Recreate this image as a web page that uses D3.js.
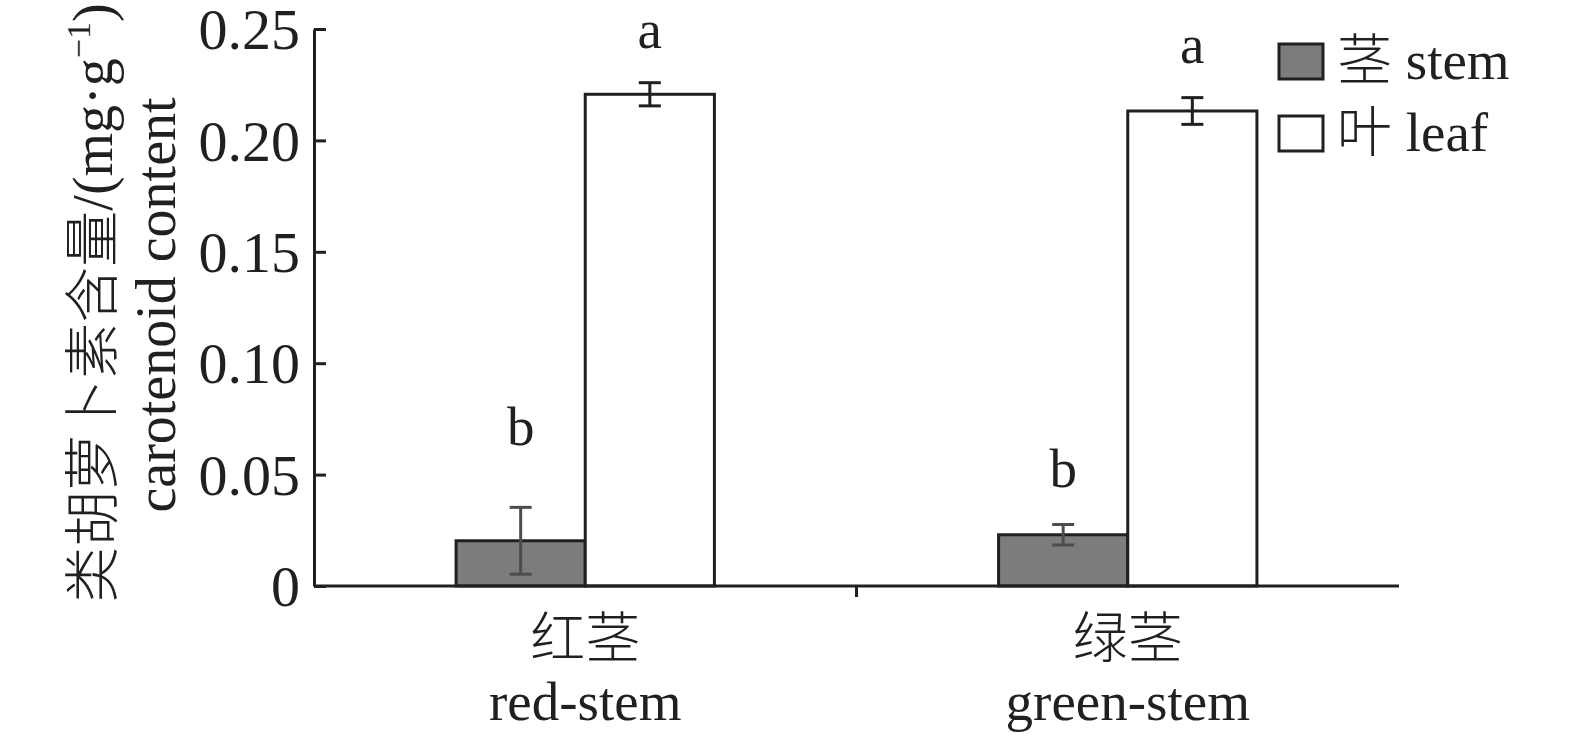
<!DOCTYPE html>
<html><head><meta charset="utf-8">
<script src="https://cdn.jsdelivr.net/npm/d3@7"></script>
<style>
html,body{margin:0;padding:0;background:#fff;}
text{font-family:"Liberation Serif","Times New Roman","Noto Sans CJK SC",serif;fill:#231f20;}
</style></head>
<body><svg id="c" width="1575" height="740"></svg>
<script>
const categories = ["红茎", "绿茎"];
const categoriesEn = ["red-stem", "green-stem"];
const series = ["茎 stem", "叶 leaf"];
const stemValues = [0.0203, 0.0230];
const leafValues = [0.2207, 0.2132];
const stemErr = [0.0150, 0.0046];
const leafErr = [0.0052, 0.0060];
const stemLetters = ["b", "b"];
const leafLetters = ["a", "a"];
const stemLetterAt = [0.0635, 0.0443];
const leafLetterAt = [0.2414, 0.2348];
const yTicks = [0, 0.05, 0.10, 0.15, 0.20, 0.25];
const yTickLabels = ["0", "0.05", "0.10", "0.15", "0.20", "0.25"];

const fills = ["#7d7c7d", "#ffffff"];
const errColors = ["#4d4d4f", "#231f20"];
const ink = "#231f20";

const svg = d3.select("#c");
const y = d3.scaleLinear().domain([0, 0.25]).range([586, 29]);
const x0 = d3.scaleBand().domain(categories).range([314, 1399]).paddingInner(0).paddingOuter(0);
const x1 = d3.scaleBand().domain(series).range([0, x0.bandwidth()]).paddingInner(0).paddingOuter(1.1);

const rows = [];
categories.forEach((c, i) => {
  rows.push({c, s: series[0], v: stemValues[i], e: stemErr[i], l: stemLetters[i], la: stemLetterAt[i], k: 0});
  rows.push({c, s: series[1], v: leafValues[i], e: leafErr[i], l: leafLetters[i], la: leafLetterAt[i], k: 1});
});

// bars
svg.append("g").selectAll("rect").data(rows).join("rect")
  .attr("x", d => x0(d.c) + x1(d.s))
  .attr("y", d => y(d.v))
  .attr("width", x1.bandwidth())
  .attr("height", d => y(0) - y(d.v))
  .attr("fill", d => fills[d.k])
  .attr("stroke", ink).attr("stroke-width", 3);

// error bars
const eg = svg.append("g").selectAll("g").data(rows).join("g")
  .attr("transform", d => `translate(${x0(d.c) + x1(d.s) + x1.bandwidth() / 2},0)`)
  .attr("stroke", d => errColors[d.k]).attr("stroke-width", 3);
eg.append("line").attr("y1", d => y(d.v + d.e)).attr("y2", d => y(d.v - d.e));
eg.append("line").attr("x1", -11).attr("x2", 11).attr("y1", d => y(d.v + d.e)).attr("y2", d => y(d.v + d.e));
eg.append("line").attr("x1", -11).attr("x2", 11).attr("y1", d => y(d.v - d.e)).attr("y2", d => y(d.v - d.e));

// letters
svg.append("g").selectAll("text").data(rows).join("text")
  .attr("x", d => x0(d.c) + x1(d.s) + x1.bandwidth() / 2)
  .attr("y", d => y(d.la))
  .attr("text-anchor", "middle")
  .attr("font-size", 55)
  .text(d => d.l);

// y axis
const yAxis = d3.axisLeft(y).tickValues(yTicks)
  .tickFormat((d, i) => yTickLabels[i]).tickSizeInner(-12).tickSizeOuter(0).tickPadding(14);
const ga = svg.append("g").attr("transform", "translate(314,0)").call(yAxis);
ga.select(".domain").attr("stroke", ink).attr("stroke-width", 3);
ga.selectAll(".tick line").attr("stroke", ink).attr("stroke-width", 3);
ga.selectAll(".tick text").attr("font-size", 58).attr("fill", ink)
  .attr("font-family", "'Liberation Serif', serif").attr("dy", "0.34em");

// x axis
svg.append("line").attr("x1", 314).attr("x2", 1399).attr("y1", y(0)).attr("y2", y(0))
  .attr("stroke", ink).attr("stroke-width", 3);
svg.append("g").selectAll("line").data(categories.slice(1)).join("line")
  .attr("x1", d => x0(d)).attr("x2", d => x0(d))
  .attr("y1", y(0)).attr("y2", y(0) + 11)
  .attr("stroke", ink).attr("stroke-width", 3);

// category labels
const cg = svg.append("g").selectAll("g").data(categories).join("g")
  .attr("transform", d => `translate(${x0(d) + x1(series[1])},0)`);
cg.append("text").attr("y", 657).attr("text-anchor", "middle").attr("font-size", 55)
  .attr("font-family", "'Noto Sans CJK SC', sans-serif").style("font-weight", 300)
  .text(d => d);
cg.append("text").attr("y", 720).attr("text-anchor", "middle").attr("font-size", 55)
  .text((d, i) => categoriesEn[i]);

// y axis title
const yt = svg.append("g");
const t1 = yt.append("text").attr("transform", "translate(112,303) rotate(-90)")
  .attr("text-anchor", "middle").attr("font-size", 56);
t1.append("tspan").attr("font-family", "'Noto Sans CJK SC', sans-serif").style("font-weight", 300).text("类胡萝卜素含量");
t1.append("tspan").text("/(mg·g");
t1.append("tspan").attr("font-size", 34).attr("dy", -22).text("−1");
t1.append("tspan").attr("dy", 22).text(")");
yt.append("text").attr("transform", "translate(175,305) rotate(-90)")
  .attr("text-anchor", "middle").attr("font-size", 56).text("carotenoid content");

// legend
const lg = svg.append("g").selectAll("g").data(series).join("g")
  .attr("transform", (d, i) => `translate(1279,${44 + i * 72})`);
lg.append("rect").attr("width", 44).attr("height", 35)
  .attr("fill", (d, i) => fills[i]).attr("stroke", ink).attr("stroke-width", 3);
const lt = lg.append("text").attr("x", 58).attr("y", 35).attr("font-size", 55);
lt.append("tspan").attr("font-family", "'Noto Sans CJK SC', sans-serif").style("font-weight", 300)
  .text(d => d.split(" ")[0]);
lt.append("tspan").text(d => " " + d.split(" ")[1]);
</script></body></html>
